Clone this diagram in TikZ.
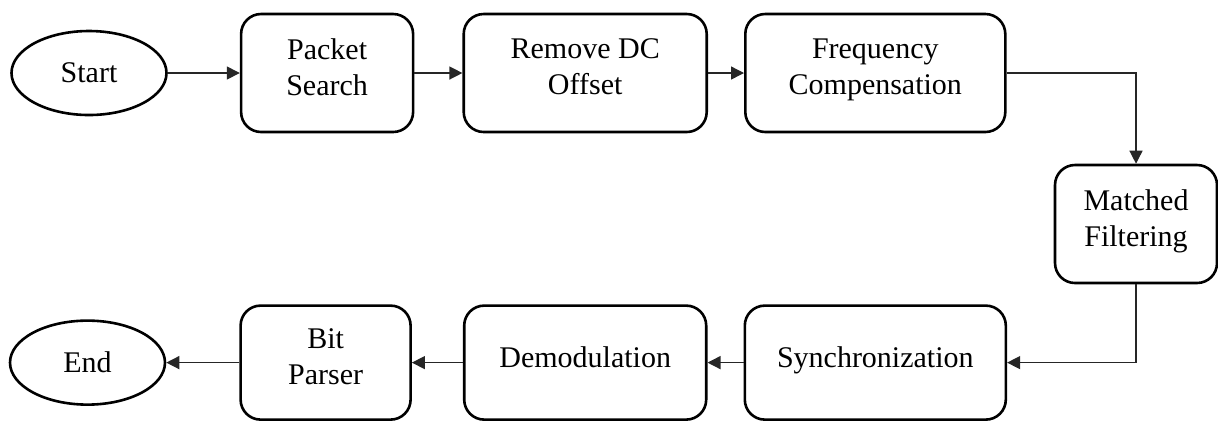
\documentclass[tikz,border=0pt]{standalone}
\usepackage{fontspec}
\setmainfont{Liberation Serif}
\usetikzlibrary{arrows.meta,positioning,shapes.geometric}

\begin{document}
\begin{tikzpicture}[
  font=\fontsize{15pt}{18pt}\selectfont,
  >={Triangle[length=6.5pt,width=6.5pt]},
  box/.style={draw, rounded corners=10pt, line width=1.3pt, align=center, minimum height=59pt, text depth=6pt, inner sep=2pt},
  term/.style={draw, ellipse, line width=1.3pt, minimum width=77.5pt, minimum height=42pt, inner sep=0pt},
  arr/.style={->, line width=0.7pt, color=black!85}
]
\useasboundingbox (0,0) rectangle (609pt,-210pt);

% top row
\node[term] (start) at (44.5pt,-36.5pt) {Start};
\node[box, minimum width=86pt, right=36pt of start] (search) {Packet\\Search};
\node[box, minimum width=121.5pt, right=24pt of search] (dcoff) {Remove DC\\Offset};
\node[box, minimum width=130pt, right=18pt of dcoff] (freq) {Frequency\\Compensation};

% right side
\node[box, minimum width=81pt] (match) at (568pt,-112pt) {Matched\\Filtering};

% bottom row
\node[box, minimum width=130.5pt, minimum height=57pt, below=85.5pt of freq] (sync) {Synchronization};
\node[box, minimum width=121pt, minimum height=57pt, left=18pt of sync] (demod) {Demodulation};
\node[box, minimum width=85pt, minimum height=57pt, left=25.5pt of demod] (parser) {Bit\\Parser};
\node[term, left=36.5pt of parser] (stop) {End};

\draw[arr] (start) -- (search);
\draw[arr] (search) -- (dcoff);
\draw[arr] (dcoff) -- (freq);
\draw[arr] (freq.east) -| (match.north);
\draw[arr] (match.south) |- (sync.east);
\draw[arr] (sync) -- (demod);
\draw[arr] (demod) -- (parser);
\draw[arr] (parser) -- (stop);

\end{tikzpicture}
\end{document}
